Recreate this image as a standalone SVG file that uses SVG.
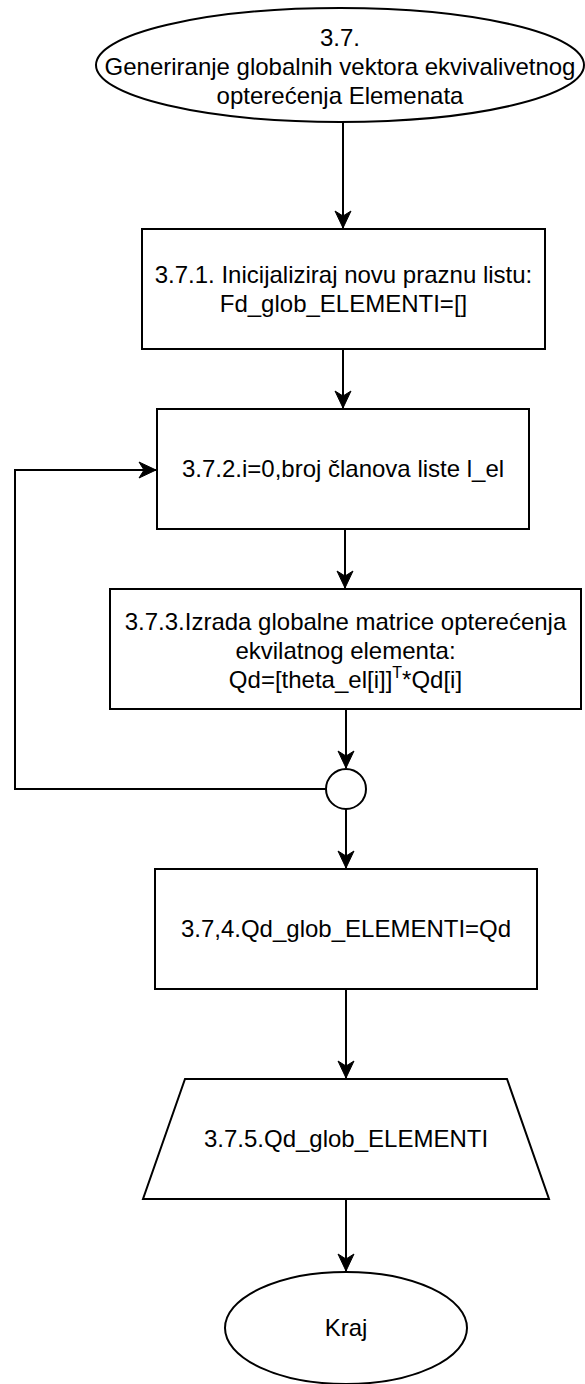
<svg xmlns="http://www.w3.org/2000/svg" width="585" height="1384" viewBox="0 0 585 1384">
<style>
.shape{fill:#fff;stroke:#000;stroke-width:2}
.edge{fill:none;stroke:#000;stroke-width:2}
text{font-family:"Liberation Sans",Arial,sans-serif;font-size:24px;fill:#000;text-anchor:middle}
</style>
<defs>
<marker id="arr" markerUnits="userSpaceOnUse" markerWidth="20" markerHeight="20" viewBox="-18 -10 20 20" refX="0" refY="0" orient="auto">
<path d="M0,0 L-17,-8 L-12,0 L-17,8 Z" fill="#000" stroke="#000" stroke-width="1"/>
</marker>
</defs>
<rect width="585" height="1384" fill="#fff"/>
<g id="connectors">
<line class="edge" x1="343" y1="122" x2="343" y2="228" marker-end="url(#arr)"/>
<line class="edge" x1="343" y1="349" x2="343" y2="408" marker-end="url(#arr)"/>
<line class="edge" x1="345" y1="529" x2="345" y2="588" marker-end="url(#arr)"/>
<line class="edge" x1="346" y1="709" x2="346" y2="768" marker-end="url(#arr)"/>
<line class="edge" x1="346" y1="809" x2="346" y2="868" marker-end="url(#arr)"/>
<polyline class="edge" points="326,789 15,789 15,470 156,470" marker-end="url(#arr)"/>
<line class="edge" x1="346" y1="989" x2="346" y2="1078" marker-end="url(#arr)"/>
<line class="edge" x1="346" y1="1199" x2="346" y2="1271" marker-end="url(#arr)"/>
</g>
<g id="start">
<ellipse class="shape" cx="340" cy="65" rx="244" ry="57"/>
<text x="340" y="46">3.7.</text>
<text x="340" y="75">Generiranje globalnih vektora ekvivalivetnog</text>
<text x="340" y="104">opterećenja Elemenata</text>
</g>
<g id="n371">
<rect class="shape" x="142" y="229" width="403" height="120"/>
<text x="343.5" y="283">3.7.1. Inicijaliziraj novu praznu listu:</text>
<text x="343.5" y="312">Fd_glob_ELEMENTI=[]</text>
</g>
<g id="n372">
<rect class="shape" x="157" y="409" width="372" height="120"/>
<text x="343" y="477">3.7.2.i=0,broj članova liste l_el</text>
</g>
<g id="n373">
<rect class="shape" x="110" y="589" width="471" height="120"/>
<text x="345.5" y="630">3.7.3.Izrada globalne matrice opterećenja</text>
<text x="345.5" y="659">ekvilatnog elementa:</text>
<text x="345.5" y="688">Qd=[theta_el[i]]<tspan font-size="16" dy="-10">T</tspan><tspan dy="10">*Qd[i]</tspan></text>
</g>
<g id="merge">
<circle class="shape" cx="346" cy="789" r="20"/>
</g>
<g id="n374">
<rect class="shape" x="155" y="869" width="382" height="120"/>
<text x="346" y="937">3.7,4.Qd_glob_ELEMENTI=Qd</text>
</g>
<g id="n375">
<polygon class="shape" points="185,1079 507,1079 549,1199 143,1199"/>
<text x="346" y="1147">3.7.5.Qd_glob_ELEMENTI</text>
</g>
<g id="end">
<ellipse class="shape" cx="346" cy="1328" rx="121" ry="56"/>
<text x="346" y="1336">Kraj</text>
</g>
</svg>
